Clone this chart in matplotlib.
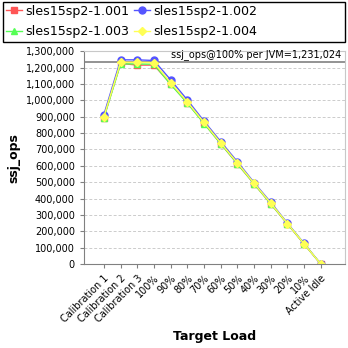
import matplotlib
matplotlib.use("Agg")
import matplotlib.pyplot as plt
from matplotlib.patches import Rectangle
from matplotlib.ticker import FuncFormatter, MultipleLocator

categories = ["Calibration 1", "Calibration 2", "Calibration 3", "100%", "90%", "80%",
              "70%", "60%", "50%", "40%", "30%", "20%", "10%", "Active Idle"]
series_names = ["sles15sp2-1.001", "sles15sp2-1.002", "sles15sp2-1.003", "sles15sp2-1.004"]
s001 = [895000, 1225000, 1215000, 1215000, 1100000, 985000, 860000, 735000, 612000, 490000, 368000, 245000, 122000, 0]
s002 = [913000, 1247000, 1247000, 1243000, 1125000, 1002000, 873000, 748000, 625000, 498000, 377000, 250000, 126000, 0]
s003 = [893000, 1222000, 1222000, 1220000, 1097000, 983000, 858000, 735000, 613000, 490000, 368000, 246000, 123000, 0]
s004 = [900000, 1232000, 1232000, 1230000, 1108000, 990000, 865000, 740000, 618000, 494000, 372000, 248000, 124000, 0]
ref_value = 1231024

colors = ["#ff5555", "#5555ff", "#55ff55", "#ffff55"]
markers = ["s", "o", "^", "D"]
msizes = [4, 5, 5, 4]

plt.rcParams['font.family'] = ['DejaVu Sans']
fig = plt.figure(figsize=(3.48, 3.48), dpi=100)
ax = fig.add_axes([0.241, 0.241, 0.750, 0.612])

x = list(range(len(categories)))
handles = []
for name, ys, c, m, ms in zip(series_names, [s001, s002, s003, s004], colors, markers, msizes):
    h, = ax.plot(x, ys, color=c, marker=m, markersize=ms, linewidth=1.0, label=name)
    handles.append(h)

ax.axhline(ref_value, color="#808080", linewidth=1.2, zorder=1)
ax.text(0.985, ref_value + 12000, "ssj_ops@100% per JVM=1,231,024", transform=ax.get_yaxis_transform(),
        ha="right", va="bottom", fontsize=7)

ax.set_ylim(0, 1300000)
ax.set_xlim(-1.2, 14.44)
ax.yaxis.set_major_locator(MultipleLocator(100000))
ax.yaxis.set_major_formatter(FuncFormatter(lambda v, p: f"{int(v):,}"))
ax.set_xticks(x)
ax.set_xticklabels(categories, rotation=45, ha="right", rotation_mode="anchor", fontsize=7)
ax.tick_params(axis="y", labelsize=7, length=3, color="#808080")
ax.tick_params(axis="x", length=3, color="#808080")
ax.grid(axis="y", color="#cccccc", linestyle=(0, (3, 2)), linewidth=0.7)
ax.set_axisbelow(True)
for s in ["left", "bottom"]:
    ax.spines[s].set_color("#808080")
for s in ["top", "right"]:
    ax.spines[s].set_color("#c8c8c8")

ax.set_ylabel("ssj_ops", fontsize=9, fontweight="bold")
ax.set_xlabel("Target Load", fontsize=9, fontweight="bold")

# legend box
fig.patches.append(Rectangle((3 / 348, 1 - 42 / 348), 342 / 348, 40 / 348, transform=fig.transFigure,
                             fill=False, edgecolor="black", linewidth=1.0))
order = [0, 2, 1, 3]
leg = fig.legend([handles[i] for i in order], [series_names[i] for i in order],
                 loc="upper left", bbox_to_anchor=(4 / 348, 1 - 3 / 348),
                 ncol=2, fontsize=9.1, frameon=False, borderaxespad=0,
                 handlelength=1.25, handletextpad=0.3, columnspacing=0.35, labelspacing=0.58,
                 borderpad=0.15)

fig.savefig("out.png", dpi=100)
